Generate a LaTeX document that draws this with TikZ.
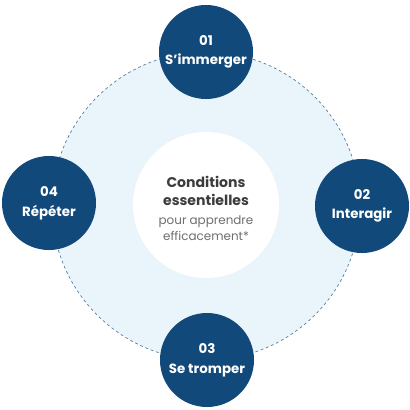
\documentclass[tikz,border=0pt]{standalone}
\usepackage{fontspec}
\setmainfont{Poppins}
\usepackage{xcolor}
\usepackage{tikz}
\usetikzlibrary{positioning}

\definecolor{bleufonce}{RGB}{17,74,122}
\definecolor{bleuclair}{RGB}{234,244,251}
\definecolor{grisfonce}{RGB}{60,60,60}
\definecolor{grisclair}{RGB}{110,110,110}

\begin{document}
\begin{tikzpicture}[x=0.025cm,y=-0.025cm,
  etape/.style={circle, fill=bleufonce, minimum size=2.35cm, inner sep=0pt,
    text=white, font=\fontsize{9.5}{14}\selectfont\bfseries, align=center}]
  \useasboundingbox (0,0) rectangle (410,410);

  % grand cercle pointille
  \draw[fill=bleuclair, draw=bleufonce!70, line width=0.5pt, dash pattern=on 2pt off 2pt]
    (206,206) circle (3.85cm);

  % cercle central
  \node[circle, fill=white, minimum size=3.65cm, inner sep=0pt] (centre) at (206,205) {};
  \node[font=\fontsize{10}{13}\selectfont\bfseries, text=grisfonce, align=center]
    (titre) at (206,191) {Conditions\\essentielles};
  \node[font=\fontsize{8.5}{11}\selectfont, text=grisclair, align=center]
    (soustitre) at (206,228) {pour apprendre\\efficacement*};

  % les quatre etapes
  \node[etape] (immerger) at (206,52) {01\\S'immerger};
  \node[etape] (interagir) at (362,206) {02\\Interagir};
  \node[etape] (tromper) at (207,360) {03\\Se tromper};
  \node[etape] (repeter) at (49,203) {04\\Répéter};

\end{tikzpicture}
\end{document}
